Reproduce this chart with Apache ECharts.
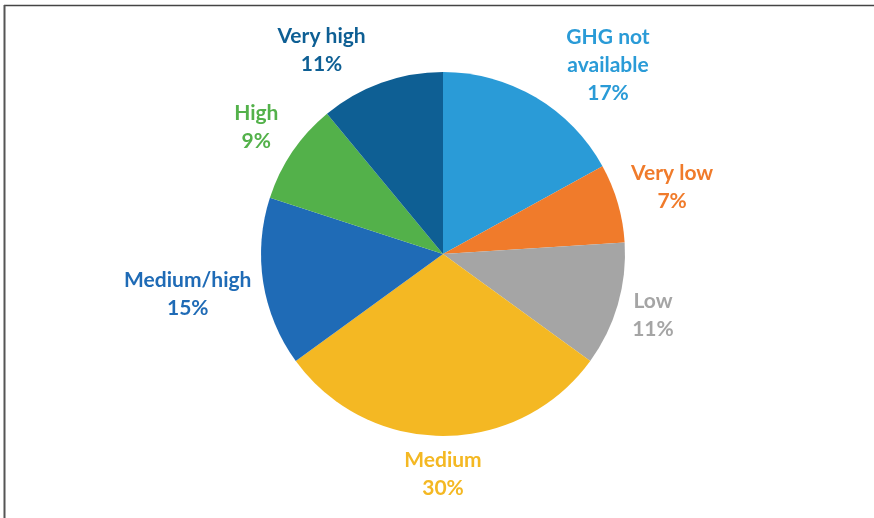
<!DOCTYPE html>
<html>
<head>
<meta charset="utf-8">
<script src="https://cdn.jsdelivr.net/npm/echarts@6/dist/echarts.min.js"></script>
<style>html,body{margin:0;padding:0;background:#fff}#c{width:874px;height:518px}</style>
</head>
<body>
<div id="c"></div>
<script>
const categories = ['GHG not available', 'Very low', 'Low', 'Medium', 'Medium/high', 'High', 'Very high'];
const values = [17, 7, 11, 30, 15, 9, 11];
const colors = ['#2A9BD7', '#F07B2B', '#A5A5A5', '#F4B823', '#1F6BB6', '#53B14A', '#0E5F94'];

const CX = 443, CY = 254, R = 182, GAP = 10, TOP = 22;
const total = values.reduce((a, b) => a + b, 0);
const cum = [];
values.reduce((acc, v, i) => { cum[i] = acc; return acc + v; }, 0);

function rectDist(cx, cy, a, b) {
  const dx = Math.max(Math.abs(cx) - a, 0), dy = Math.max(Math.abs(cy) - b, 0);
  return Math.hypot(dx, dy);
}
function placeAt(th, a, b) {
  const ux = Math.sin(th), uy = -Math.cos(th);
  let lo = 0, hi = R + 400;
  for (let k = 0; k < 50; k++) {
    const m = (lo + hi) / 2;
    if (rectDist(ux * m, uy * m, a, b) < R + GAP) lo = m; else hi = m;
  }
  return [ux * hi, uy * hi];
}

const chart = echarts.init(document.getElementById('c'), null, {renderer: 'canvas'});
chart.setOption({
  backgroundColor: '#fff',
  animation: false,
  graphic: [
    {type: 'line', shape: {x1: 4, y1: 5.5, x2: 874, y2: 5.5}, style: {stroke: '#444', lineWidth: 1.5}},
    {type: 'line', shape: {x1: 4.5, y1: 5, x2: 4.5, y2: 518}, style: {stroke: '#555', lineWidth: 2}}
  ],
  series: [{
    type: 'pie',
    center: [CX, CY],
    radius: [0, R],
    startAngle: 90,
    clockwise: true,
    avoidLabelOverlap: false,
    itemStyle: {borderWidth: 0},
    label: {
      show: true,
      position: 'outside',
      fontFamily: 'Lato',
      fontWeight: 'bold',
      fontSize: 21,
      lineHeight: 28,
      formatter: p => p.name.replace('GHG not available', 'GHG not\navailable') + '\n' + p.value + '%'
    },
    labelLine: {show: false},
    labelLayout: function (params) {
      const i = params.dataIndex;
      const a = params.labelRect.width / 2, b = params.labelRect.height / 2;
      let th = 2 * Math.PI * (cum[i] + values[i] / 2) / total;
      const dir = th < Math.PI ? 1 : -1;
      let p = placeAt(th, a, b);
      let steps = 0;
      while (CY + p[1] - b < TOP && steps < 180) {
        th += dir * Math.PI / 360;
        p = placeAt(th, a, b);
        steps++;
      }
      return {x: CX + p[0], y: CY + p[1], align: 'center', verticalAlign: 'middle'};
    },
    data: categories.map((n, i) => ({
      name: n, value: values[i],
      itemStyle: {color: colors[i]},
      label: {color: colors[i]}
    }))
  }]
});
</script>
</body>
</html>
